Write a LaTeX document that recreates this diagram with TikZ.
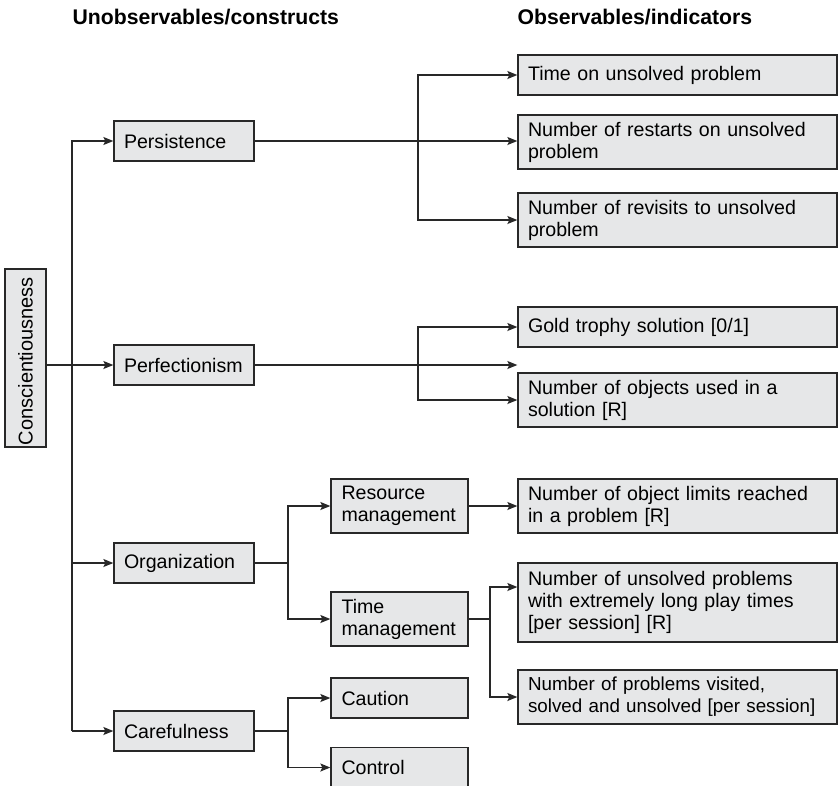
\documentclass[tikz,border=0pt]{standalone}
\usepackage{fontspec}
\setmainfont{Liberation Sans}
\usetikzlibrary{arrows.meta}

\definecolor{boxgray}{RGB}{230,231,232}
\definecolor{linegray}{RGB}{40,40,40}

\tikzset{
  box/.style={shape=rectangle,draw=linegray,fill=boxgray,line width=1.3pt,
    inner ysep=0pt,align=left,font=\fontsize{19.6}{22}\selectfont},
  conbox/.style={box,inner xsep=10pt,text width=120pt,minimum height=40pt},
  midbox/.style={box,inner xsep=10.5pt,text width=116pt,minimum height=#1},
  indbox/.style={box,inner xsep=10pt,text width=299pt,minimum height=#1},
  head/.style={anchor=west,inner sep=0pt,font=\fontsize{21.2}{24}\selectfont\bfseries}
}

\begin{document}
\begin{tikzpicture}[x=1pt,y=-1pt,line width=1.3pt,draw=linegray,
  >={Stealth[length=10pt,width=8pt,inset=2pt]}]
\useasboundingbox (0,0) rectangle (838,785);
\clip (0,0) rectangle (838,785);

\node(hcon) at (72,17)[head]  {Unobservables/constructs};
\node(hind) at (517,17)[head] {Observables/indicators};

\node(consc) at (25.5,358)[box,rotate=90,inner xsep=2pt,text width=174pt,
  minimum height=41pt,font=\fontsize{20}{22}\selectfont] {Conscientiousness};

\node(pers) at (184,141)[conbox] {Persistence};
\node(perf) at (184,365)[conbox] {Perfectionism};
\node(org)  at (184,563)[conbox] {Organization};
\node(care) at (184,731)[conbox] {Carefulness};

\node(res)  at (399.5,506)[midbox=54pt] {Resource\\management};
\node(tim)  at (399.5,619)[midbox=54pt] {Time\\management};
\node(caut) at (399.5,698)[midbox=40pt] {Caution};
\node(ctrl) at (399.5,767.5)[midbox=40pt] {Control};

\node(tunsolved) at (677.5,75)[indbox=40pt]    {Time on unsolved problem};
\node(restarts)  at (677.5,142)[indbox=54pt]   {Number of restarts on unsolved\\problem};
\node(revisits)  at (677.5,220)[indbox=54pt]   {Number of revisits to unsolved\\problem};
\node(gold)      at (677.5,327)[indbox=40pt]   {Gold trophy solution [0/1]};
\node(objects)   at (677.5,400)[indbox=54pt]   {Number of objects used in a\\solution [R]};
\node(limits)    at (677.5,506)[indbox=54pt]   {Number of object limits reached\\in a problem [R]};
\node(longplay)  at (677.5,602.5)[indbox=79pt] {Number of unsolved problems\\with extremely long play times\\{}[per session] [R]};
\node(visited)   at (677.5,697)[indbox=54pt,font=\fontsize{18.8}{22}\selectfont]
  {Number of problems visited,\\\mbox{solved and unsolved [per session]}};

\coordinate(trunk) at (72,0);
\coordinate(split) at (418,0);
\coordinate(fork)  at (288,0);
\coordinate(tfork) at (490,0);

% construct level
\draw [->] (consc.south |- perf.west) -- (perf.west);
\draw [->] (trunk |- care.west) |- (pers.west);
\draw [->] (trunk |- org.west) -- (org.west);
\draw [->] (trunk |- care.west) -- (care.west);

% persistence
\draw [->] (pers.east) -- (pers.east -| restarts.west);
\draw [->] (split |- pers.east) |- (tunsolved.west);
\draw [->] (split |- pers.east) |- (revisits.west);

% perfectionism
\draw [->] (perf.east) -- (perf.east -| gold.west);
\draw [->] (split |- perf.east) |- (gold.west);
\draw [->] (split |- perf.east) |- (objects.west);

% organization
\draw (org.east) -- (fork |- org.east);
\draw [->] (fork |- org.east) |- (res.west);
\draw [->] (fork |- org.east) |- (tim.west);
\path [->]
  (res)  edge (limits);
\draw (tim.east) -- (tfork |- tim.east);
\draw [->] (tfork |- tim.east) |- ([yshift=15.5pt]longplay.west);
\draw [->] (tfork |- tim.east) |- (visited.west);

% carefulness
\draw (care.east) -- (fork |- care.east);
\draw [->] (fork |- care.east) |- (caut.west);
\draw [->] (fork |- care.east) |- (ctrl.west);

\end{tikzpicture}
\end{document}
